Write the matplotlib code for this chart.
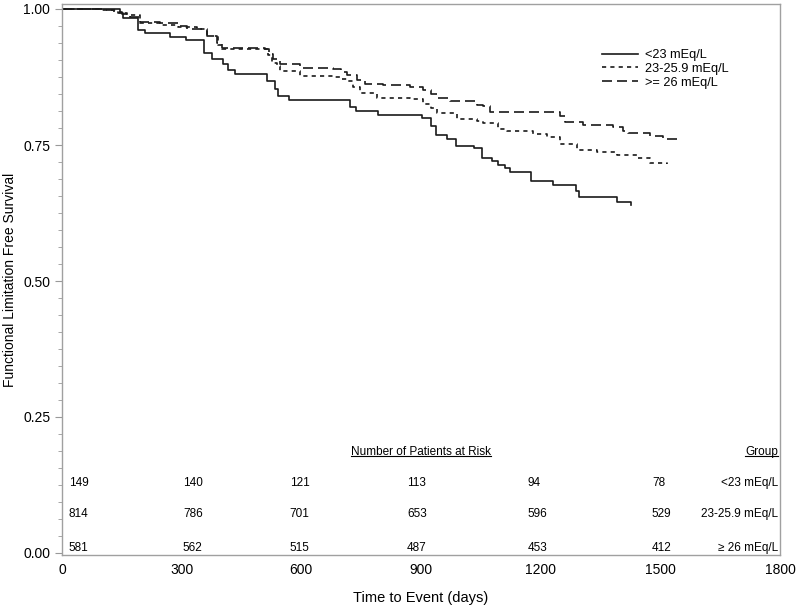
import matplotlib
matplotlib.use("Agg")
import matplotlib.pyplot as plt
from matplotlib.ticker import MultipleLocator
from matplotlib.lines import Line2D

plt.rcParams['font.family'] = ['Liberation Sans', 'DejaVu Sans']

# Kaplan-Meier curves (days, survival)
t_low = [0, 145, 153, 190, 208, 271, 311, 356, 376, 404, 416, 434, 514, 534, 541, 569,
         722, 737, 792, 902, 925, 938, 965, 988, 1033, 1053, 1078, 1093, 1111, 1123,
         1176, 1231, 1289, 1296, 1391, 1426]
s_low = [1.0, 0.993, 0.983, 0.961, 0.956, 0.949, 0.943, 0.919, 0.908, 0.899, 0.888, 0.881,
         0.868, 0.853, 0.840, 0.832, 0.820, 0.813, 0.805, 0.800, 0.785, 0.769, 0.761, 0.749,
         0.745, 0.727, 0.721, 0.714, 0.708, 0.700, 0.684, 0.677, 0.666, 0.655, 0.646, 0.640]

t_mid = [0, 100, 140, 163, 196, 246, 291, 338, 363, 391, 400, 509, 516, 526, 539, 547, 597,
         679, 697, 714, 730, 747, 790, 872, 905, 925, 940, 990, 1040, 1055, 1093, 1116,
         1181, 1216, 1248, 1291, 1341, 1391, 1441, 1474, 1517]
s_mid = [1.0, 0.998, 0.993, 0.989, 0.975, 0.971, 0.967, 0.963, 0.950, 0.934, 0.926, 0.926,
         0.915, 0.901, 0.895, 0.886, 0.877, 0.875, 0.872, 0.868, 0.857, 0.846, 0.837, 0.835,
         0.826, 0.818, 0.809, 0.798, 0.794, 0.791, 0.780, 0.775, 0.771, 0.765, 0.752, 0.741,
         0.738, 0.732, 0.727, 0.716, 0.715]

t_high = [0, 100, 130, 150, 170, 196, 246, 290, 313, 363, 389, 400, 510, 520, 530, 547, 597,
          680, 700, 714, 740, 760, 805, 872, 905, 925, 940, 973, 1040, 1055, 1073, 1248,
          1261, 1306, 1381, 1406, 1420, 1474, 1507, 1542]
s_high = [1.0, 0.998, 0.995, 0.990, 0.985, 0.976, 0.974, 0.969, 0.963, 0.950, 0.938, 0.929,
          0.927, 0.918, 0.908, 0.899, 0.892, 0.890, 0.884, 0.879, 0.870, 0.863, 0.861, 0.857,
          0.851, 0.843, 0.837, 0.830, 0.824, 0.822, 0.810, 0.804, 0.792, 0.787, 0.783, 0.775,
          0.772, 0.767, 0.761, 0.756]

labels = ['<23 mEq/L', '23-25.9 mEq/L', '>= 26 mEq/L']
group_names = ['<23 mEq/L', '23-25.9 mEq/L', '\u2265 26 mEq/L']
at_risk = [
    [149, 140, 121, 113, 94, 78],
    [814, 786, 701, 653, 596, 529],
    [581, 562, 515, 487, 453, 412],
]

fig = plt.figure(figsize=(8.01, 6.05), dpi=100)
ax = fig.add_axes([62 / 801, 1 - 555 / 605, 718 / 801, 551 / 605])

line_col = '#1a1a1a'
ax.plot(t_low, s_low, drawstyle='steps-post', color=line_col, lw=1.2, label=labels[0])
ax.plot(t_mid, s_mid, drawstyle='steps-post', color=line_col, lw=1.2,
        dashes=(2.5, 2.5), label=labels[1])
ax.plot(t_high, s_high, drawstyle='steps-post', color=line_col, lw=1.2,
        dashes=(6, 3), label=labels[2])

ax.set_xlim(0, 1800)
ax.set_ylim(-2 / 544, 1 + 5 / 544)
ax.set_xticks([0, 300, 600, 900, 1200, 1500, 1800])
ax.set_yticks([0, 0.25, 0.5, 0.75, 1.0])
ax.set_yticklabels(['0.00', '0.25', '0.50', '0.75', '1.00'])
ax.yaxis.set_minor_locator(MultipleLocator(0.25 / 8))
ax.tick_params(axis='y', which='major', length=5, color='#999999', labelsize=10)
ax.tick_params(axis='y', which='minor', length=3, color='#999999')
ax.tick_params(axis='x', which='major', length=0, labelsize=10, pad=6)
for sp in ax.spines.values():
    sp.set_color('#a0a0a0')
    sp.set_linewidth(1.0)

ax.set_xlabel('Time to Event (days)', fontsize=10.5, labelpad=10)
ax.set_ylabel('Functional Limitation Free Survival', fontsize=10)
ax.yaxis.set_label_coords(-0.063, 0.5)

leg = ax.legend(loc='upper left', bbox_to_anchor=(602 / 801, 1 - 49 / 605),
                bbox_transform=fig.transFigure, frameon=False, fontsize=9.2,
                handlelength=2.8, handletextpad=0.55, labelspacing=0.15,
                borderpad=0, borderaxespad=0)

# number at risk table
col_x = [17, 303, 571, 865, 1168, 1479]
row_y = [0.128, 0.072, 0.010]
head_y = 0.186
fs_tab = 8.5
hdr = ax.text(900, head_y, 'Number of Patients at Risk', ha='center', va='center', fontsize=fs_tab)
grp = ax.text(1795, head_y, 'Group', ha='right', va='center', fontsize=fs_tab)
for r, counts in enumerate(at_risk):
    for x, n in zip(col_x, counts):
        ax.text(x, row_y[r], str(n), ha='left', va='center', fontsize=fs_tab)
    ax.text(1795, row_y[r], group_names[r], ha='right', va='center', fontsize=fs_tab)

fig.canvas.draw()
renderer = fig.canvas.get_renderer()
inv = fig.transFigure.inverted()
for t in (hdr, grp):
    bb = t.get_window_extent(renderer)
    (x0, y0), (x1, _) = inv.transform([(bb.x0, bb.y0 + 1.5), (bb.x1, bb.y0 + 1.5)])
    fig.add_artist(Line2D([x0, x1], [y0, y0], color='black', lw=0.8, transform=fig.transFigure))

fig.savefig('out.png', dpi=100)
